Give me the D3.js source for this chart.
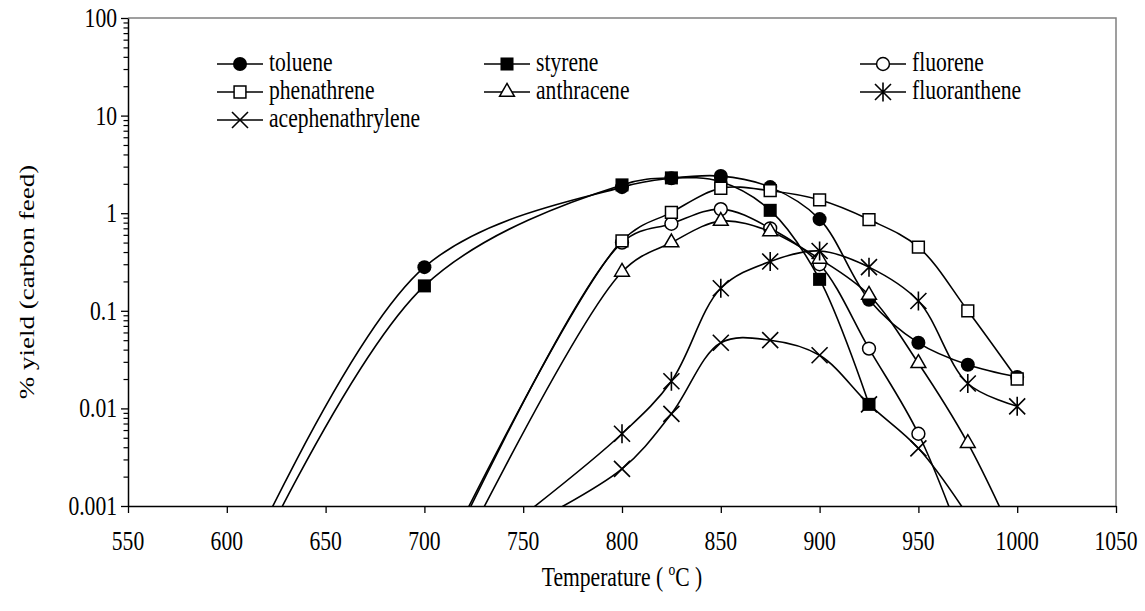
<!DOCTYPE html>
<html>
<head>
<meta charset="utf-8">
<script src="https://cdn.jsdelivr.net/npm/d3@7"></script>
<style>
  body { margin: 0; background: #fff; }
  svg { display: block; }
  svg text { font-family: "Liberation Serif", "Times New Roman", Times, serif; fill: #000; }
</style>
</head>
<body>
<div id="chart"></div>
<script>
// temperatures (°C) sampled; null = no value for that series
const temperature = [600, 700, 750, 800, 825, 850, 875, 900, 925, 950, 975, 1000];

// % yield (carbon feed); values under 0.001 sit below the axis and are clipped
const toluene          = [1e-4, 0.28, null, 1.85, 2.28, 2.4, 1.85, 0.87, 0.13, 0.047, 0.028, 0.021];
const styrene          = [7e-5, 0.18, null, 1.95, 2.3, 2.1, 1.07, 0.21, 0.011, null, null, null];
const fluorene         = [null, 1e-4, null, 0.5, 0.78, 1.1, 0.7, 0.3, 0.041, 0.0055, 0.0003, null];
const phenathrene      = [null, 1.2e-4, null, 0.52, 1.02, 1.8, 1.7, 1.37, 0.86, 0.45, 0.1, 0.02];
const anthracene       = [null, 6e-5, null, 0.25, 0.5, 0.83, 0.65, 0.34, 0.145, 0.029, 0.0044, 0.0004];
const fluoranthene     = [null, null, 0.0008, 0.0055, 0.019, 0.17, 0.32, 0.41, 0.28, 0.126, 0.018, 0.0105];
const acephenathrylene = [null, null, 0.0006, 0.0024, 0.0088, 0.047, 0.05, 0.035, 0.011, 0.0039, 0.0008, null];

const xTicks = [550, 600, 650, 700, 750, 800, 850, 900, 950, 1000, 1050];
const yTicks = [0.001, 0.01, 0.1, 1, 10, 100];
const yTickLabels = ["0.001", "0.01", "0.1", "1", "10", "100"];

const series = [
  { name: "toluene", values: toluene, marker: "circle", filled: true },
  { name: "styrene", values: styrene, marker: "square", filled: true },
  { name: "fluorene", values: fluorene, marker: "circle", filled: false },
  { name: "phenathrene", values: phenathrene, marker: "square", filled: false },
  { name: "anthracene", values: anthracene, marker: "triangle", filled: false },
  { name: "fluoranthene", values: fluoranthene, marker: "star", filled: false },
  { name: "acephenathrylene", values: acephenathrylene, marker: "cross", filled: false }
];

const width = 1145, height = 611;
const plotLeft = 128, plotRight = 1116, plotTop = 18, plotBottom = 506;
const fontSize = 27, squeeze = 0.8;   // the source figure is narrowed horizontally

const svg = d3.select("#chart").append("svg")
  .attr("width", width)
  .attr("height", height);

svg.append("rect").attr("width", width).attr("height", height).attr("fill", "#fff");

const x = d3.scaleLinear().domain([550, 1050]).range([plotLeft, plotRight]);
const y = d3.scaleLog().domain([0.001, 100]).range([plotBottom, plotTop]);

function label(parent, lx, ly, str, anchor, extra) {
  return parent.append("text")
    .attr("transform", `translate(${lx},${ly}) scale(${squeeze},1)` + (extra || ""))
    .attr("text-anchor", anchor)
    .attr("font-size", fontSize)
    .text(str);
}

svg.append("defs").append("clipPath").attr("id", "plot")
  .append("rect")
  .attr("x", plotLeft).attr("y", plotTop)
  .attr("width", plotRight - plotLeft).attr("height", plotBottom - plotTop);

// plot area border (top and right)
svg.append("path")
  .attr("d", `M${plotLeft},${plotTop}H${plotRight}V${plotBottom}`)
  .attr("fill", "none")
  .attr("stroke", "#808080")
  .attr("stroke-width", 1.5);

function markerPath(s) {
  if (s.marker === "circle") return d3.symbol(d3.symbolCircle, s.filled ? 155 : 130)();
  if (s.marker === "square") return d3.symbol(d3.symbolSquare, s.filled ? 170 : 140)();
  if (s.marker === "triangle") return d3.symbol(d3.symbolTriangle, 95)();
  if (s.marker === "star") return "M0,-9.5V9.5M-8,-8L8,8M-8,8L8,-8";
  return "M-8,-8L8,8M-8,8L8,-8";
}

function drawMarker(g, s) {
  const p = g.append("path").attr("d", markerPath(s));
  if (s.filled) {
    p.attr("fill", "#000").attr("stroke", "none");
  } else if (s.marker === "star" || s.marker === "cross") {
    p.attr("fill", "none").attr("stroke", "#000").attr("stroke-width", 1.6);
  } else {
    p.attr("fill", "#fff").attr("stroke", "#000").attr("stroke-width", 1.5);
  }
  return p;
}

const line = d3.line()
  .x(d => x(d[0]))
  .y(d => y(d[1]))
  .curve(d3.curveCatmullRom.alpha(0.5));

const plot = svg.append("g").attr("clip-path", "url(#plot)");

series.forEach(s => {
  const pts = temperature.map((t, i) => [t, s.values[i]]).filter(d => d[1] != null);
  const g = plot.append("g");
  g.append("path")
    .attr("d", line(pts))
    .attr("fill", "none")
    .attr("stroke", "#000")
    .attr("stroke-width", 1.6);
  pts.forEach(d => {
    drawMarker(g, s).attr("transform", `translate(${x(d[0])},${y(d[1])})`);
  });
});

// x axis
const xAxis = svg.append("g")
  .attr("transform", `translate(0,${plotBottom})`)
  .call(d3.axisBottom(x).tickValues(xTicks).tickSize(7).tickSizeOuter(0).tickFormat(""));
xAxis.select(".domain").attr("stroke-width", 1.5);
xAxis.selectAll(".tick line").attr("stroke-width", 1.3);
xTicks.forEach(t => label(svg, x(t), plotBottom + 44, d3.format("d")(t), "middle"));

// y axis, minor ticks first
const minor = [];
for (let e = -3; e < 2; e++) for (let k = 2; k <= 9; k++) minor.push(k * Math.pow(10, e));
svg.append("g")
  .attr("transform", `translate(${plotLeft},0)`)
  .call(d3.axisLeft(y).tickValues(minor).tickSize(4.5).tickSizeOuter(0).tickFormat(""))
  .call(g => g.select(".domain").remove())
  .selectAll(".tick line").attr("stroke-width", 1.2);

const yAxis = svg.append("g")
  .attr("transform", `translate(${plotLeft},0)`)
  .call(d3.axisLeft(y).tickValues(yTicks).tickSize(7).tickSizeOuter(0).tickFormat(""));
yAxis.select(".domain").attr("stroke-width", 1.5);
yAxis.selectAll(".tick line").attr("stroke-width", 1.3);
yTicks.forEach((v, i) => label(svg, plotLeft - 11, y(v) + 9, yTickLabels[i], "end"));

// axis titles
const xt = label(svg, (plotLeft + plotRight) / 2, 586, null, "middle");
xt.append("tspan").text("Temperature ( ");
xt.append("tspan").text("o").attr("font-size", 17).attr("dy", -11);
xt.append("tspan").text("C )").attr("dy", 11);

label(svg, 34, 282, "% yield (carbon feed)", "middle", " rotate(-90)");

// legend
const legendCols = [217, 484, 860];
const legendRows = [64, 92, 120];
const legend = svg.append("g");
series.forEach((s, i) => {
  const lx = legendCols[i % 3], ly = legendRows[Math.floor(i / 3)];
  const g = legend.append("g").attr("transform", `translate(${lx},${ly})`);
  g.append("line").attr("x1", 0).attr("x2", 46).attr("stroke", "#000").attr("stroke-width", 1.6);
  drawMarker(g, s).attr("transform", "translate(23,0)");
  label(g, 52, 7, s.name, "start");
});
</script>
</body>
</html>
